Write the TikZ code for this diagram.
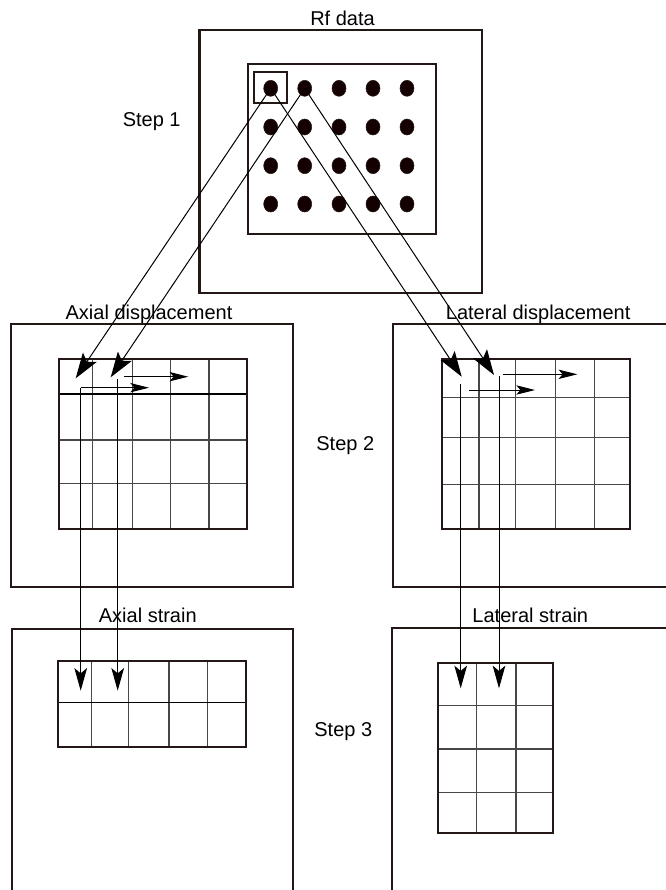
\documentclass[tikz,border=0pt]{standalone}
\usepackage{fontspec}
\setmainfont{Liberation Sans}
\usetikzlibrary{arrows.meta,shapes.geometric}
\definecolor{frame}{HTML}{231815}
\definecolor{gridc}{HTML}{474747}
\tikzset{
  box/.style={draw=frame, line width=1.7pt},
  gridbox/.style={draw=frame, line width=1.5pt},
  gridline/.style={draw=gridc, line width=0.8pt},
  rowline/.style={draw=black, line width=1.1pt},
  lbl/.style={font=\fontsize{15}{18}\selectfont, anchor=base, inner sep=0pt},
  dot/.style={ellipse, fill=black!92!red, draw=frame, line width=0.4pt,
              minimum width=10.5pt, minimum height=12pt, inner sep=0pt},
  diag/.style={draw=black, line width=0.75pt,
               -{Stealth[length=19pt, width=12.5pt, inset=4pt]}},
  flow/.style={draw=black, line width=0.75pt,
               -{Stealth[length=14pt, width=7pt, inset=3pt]}},
  down/.style={draw=black, line width=0.75pt,
               -{Stealth[length=17pt, width=9.5pt, inset=4pt]}},
}
\begin{document}
\begin{tikzpicture}[x=0.75pt, y=-0.75pt]
\useasboundingbox (0,0) rectangle (666,890);

% ---------- Step 1: RF data ----------
\node[lbl] (rf) at (342.5,25) {Rf data};
\node[lbl] (s1) at (151.7,126) {Step 1};
\draw[box] (199.5,30) rectangle (482,293);
\draw[box] (247.7,64.3) rectangle (436,233.7);
\draw[box, line width=1.5pt] (254.3,71.7) rectangle (286.7,103.3);
\foreach \c/\x in {1/270.7,2/304.7,3/339,4/373,5/407}
  \foreach \r/\y in {1/88.3,2/127,3/165.7,4/204}
    \node[dot] (d\r\c) at (\x,\y) {};

% ---------- Step 2: displacement maps ----------
\node[lbl] (ad) at (149,319.3) {Axial displacement};
\node[lbl] (ld) at (538.2,319.3) {Lateral displacement};
\node[lbl] (s2) at (345.3,450.7) {Step 2};

% axial displacement frame and grid
\draw[box] (11,324.3) rectangle (293.3,587.3);
\foreach \x in {92.7,132.7,170.7,209}
  \draw[gridline] (\x,359.3) -- (\x,528.7);
\foreach \y in {440,483.3}
  \draw[gridline] (59,\y) -- (247,\y);
\draw[rowline] (59,394) -- (247,394);
\draw[gridbox] (59,359.3) rectangle (247,528.7);

% lateral displacement frame (open to the right) and grid
\draw[box] (666,324) -- (392.7,324) -- (392.7,587.3) -- (666,587.3);
\foreach \x in {479,515.3,555.3,594.7}
  \draw[gridline] (\x,359.3) -- (\x,528.7);
\foreach \y in {397.3,437.7,484.3}
  \draw[gridline] (442,\y) -- (630,\y);
\draw[gridbox] (442,359.3) rectangle (630,528.7);

% ---------- Step 3: strain maps ----------
\node[lbl] (as) at (147.8,622.7) {Axial strain};
\node[lbl] (ls) at (530.3,622.7) {Lateral strain};
\node[lbl] (s3) at (343.3,736) {Step 3};

\draw[box] (11.7,890) -- (11.7,629) -- (293.3,629) -- (293.3,890);
\foreach \x in {91.7,128.3,169,207.3}
  \draw[gridline] (\x,661) -- (\x,747.3);
\draw[rowline] (58.3,702.7) -- (246,702.7);
\draw[gridbox] (58.3,661) rectangle (246,747.3);

\draw[box] (392.3,890) -- (392.3,628.3) -- (666,628.3);
\foreach \x in {476.7,516}
  \draw[gridline] (\x,662.7) -- (\x,832.7);
\foreach \y in {705.3,749,792.7}
  \draw[gridline] (437.7,\y) -- (552.7,\y);
\draw[gridbox] (437.7,662.7) rectangle (552.7,832.7);

% ---------- connector end points ----------
\coordinate (axA) at (75.7,378.3);
\coordinate (axB) at (110.7,377.3);
\coordinate (laA) at (461.7,376.7);
\coordinate (laB) at (494,375);

\coordinate (axV1) at (80.7,387.7);
\coordinate (axV2) at (117.7,379.3);
\coordinate (axH1) at (149,387.7);
\coordinate (axU0) at (124,376.7);
\coordinate (axU1) at (188.3,376.7);
\coordinate (asA) at (80.7,690.7);
\coordinate (asB) at (117.7,690.7);

\coordinate (laV1) at (460.7,384.3);
\coordinate (laV2) at (499,376);
\coordinate (laH0) at (469.3,390);
\coordinate (laH1) at (535,390);
\coordinate (laU0) at (503.3,374.3);
\coordinate (laU1) at (577.3,374.3);
\coordinate (lsA) at (460.7,688.3);
\coordinate (lsB) at (499,688.3);

% ---------- connectors ----------
\draw[diag] (d11.center) -- (axA);
\draw[diag] (d12.center) -- (axB);
\draw[diag] (d11.center) -- (laA);
\draw[diag] (d12.center) -- (laB);

\draw[flow] (axV1) -- (axH1);
\draw[flow] (axU0) -- (axU1);
\draw[flow] (laH0) -- (laH1);
\draw[flow] (laU0) -- (laU1);

\draw[down] (axV1) -- (asA);
\draw[down] (axV2) -- (asB);
\draw[down] (laV1) -- (lsA);
\draw[down] (laV2) -- (lsB);
\end{tikzpicture}
\end{document}
